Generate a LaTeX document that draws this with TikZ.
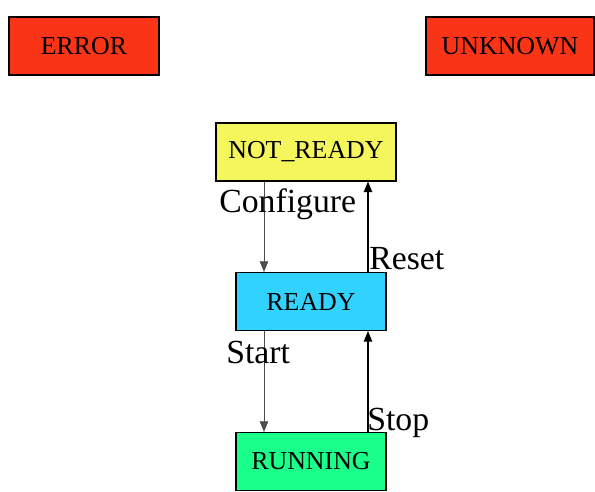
\documentclass[tikz,border=0pt]{standalone}
\usepackage{fontspec}
\setmainfont{Liberation Serif}
\usetikzlibrary{arrows.meta}
\definecolor{errred}{RGB}{250,52,22}
\definecolor{nryellow}{RGB}{245,245,92}
\definecolor{rdycyan}{RGB}{50,210,255}
\definecolor{rungreen}{RGB}{26,255,138}
\begin{document}
\begin{tikzpicture}[
    x=0.025cm, y=-0.025cm,
    state/.style={rectangle, draw, line width=0.8pt, minimum height=1.45cm, font=\fontsize{18.4}{20}\selectfont},
    trans/.style={font=\fontsize{24}{26}\selectfont, inner sep=0pt, anchor=west},
    every path/.style={>={Triangle[length=7.5pt, width=6pt]}}
]
\useasboundingbox (0,0) rectangle (595,492);

\node[state, fill=errred, minimum width=3.75cm] (error) at (84,46) {ERROR};
\node[state, fill=errred, minimum width=4.2cm] (unknown) at (510,46) {UNKNOWN};
\node[state, fill=nryellow, minimum width=4.5cm] (notready) at (306,152) {NOT\_READY};
\node[state, fill=rdycyan, minimum width=3.75cm] (ready) at (311,301.5) {READY};
\node[state, fill=rungreen, minimum width=3.75cm] (running) at (311,461.5) {RUNNING};

\coordinate (l) at (264,0);
\coordinate (r) at (368,0);

% transitions
\draw[->, draw=black!70] (notready.south -| l) -- (ready.north -| l);
\draw[->, thick] (ready.north -| r) -- (notready.south -| r);
\draw[->, draw=black!70] (ready.south -| l) -- (running.north -| l);
\draw[->, thick] (running.north -| r) -- (ready.south -| r);

\node[trans] (configure) at (219,204) {Configure};
\node[trans] (reset) at (369,259) {Reset};
\node[trans] (start) at (226,352) {Start};
\node[trans] (stop) at (367,423) {Stop};
\end{tikzpicture}
\end{document}
